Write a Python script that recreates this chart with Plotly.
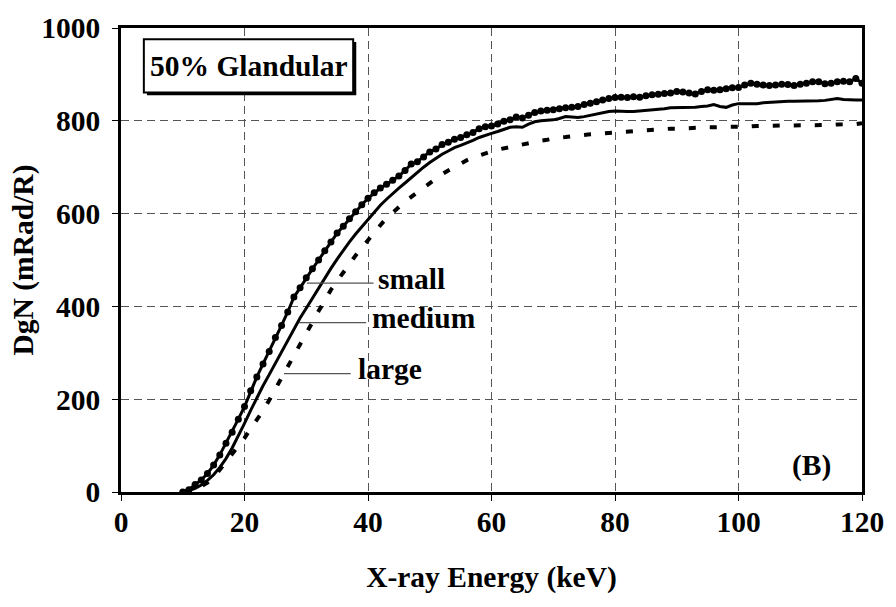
import plotly.graph_objects as go

energy = list(range(10, 121))

small = [0, 5, 16, 26, 40, 58, 80, 105, 129, 157, 184, 218, 248, 276, 303, 333, 359, 388, 420, 440,
         462, 481, 500, 520, 539, 558, 573, 589, 604, 619, 633, 645, 655, 663, 672, 681, 693, 707, 712, 722,
         733, 739, 749, 754, 760, 764, 770, 775, 783, 787, 789, 793, 799, 802, 808, 806, 812, 818, 821, 823,
         824, 826, 828, 829, 831, 835, 838, 841, 845, 848, 850, 851, 850, 852, 851, 854, 856, 857, 859, 860,
         863, 862, 860, 858, 863, 867, 866, 867, 869, 871, 872, 877, 881, 879, 877, 876, 877, 879, 878, 876,
         879, 881, 884, 884, 880, 881, 884, 885, 884, 891, 881]

medium = [0, 3, 8, 15, 25, 37, 53, 72, 95, 120, 148, 176, 204, 229, 253, 278, 303, 328, 352, 375,
          396, 418, 441, 462, 482, 502, 521, 539, 556, 572, 588, 604, 618, 631, 644, 655, 666, 678, 689, 700,
          710, 719, 728, 735, 742, 747, 752, 758, 764, 769, 773, 777, 782, 786, 787, 786, 793, 798, 800, 801,
          802, 805, 809, 808, 807, 809, 812, 814, 817, 820, 821, 820, 820, 820, 821, 822, 824, 825, 826, 828,
          828, 828, 828, 829, 831, 832, 835, 831, 829, 834, 837, 837, 837, 837, 839, 840, 841, 841, 842, 842,
          842, 842, 843, 843, 844, 846, 848, 846, 845, 845, 845]

large = [0, 2, 6, 12, 20, 31, 48, 63, 80, 96, 116, 137, 156, 175, 198, 222, 247, 272, 296, 320,
         346, 368, 390, 412, 436, 455, 472, 491, 510, 527, 543, 559, 575, 590, 603, 615, 626, 636, 646, 656,
         666, 676, 685, 693, 701, 709, 715, 721, 726, 730, 734, 738, 741, 744, 747, 750, 752, 754, 757, 759,
         762, 764, 765, 767, 768, 770, 771, 772, 773, 774, 776, 777, 778, 779, 780, 781, 781, 782, 782, 783,
         783, 784, 784, 785, 785, 786, 786, 786, 787, 787, 787, 788, 788, 789, 789, 789, 790, 790, 790, 790,
         789, 789, 790, 790, 791, 791, 792, 792, 793, 793, 795]

x_ticks = [0, 20, 40, 60, 80, 100, 120]
y_ticks = [0, 200, 400, 600, 800, 1000]

FONT = "Liberation Serif, Times New Roman, serif"
FS = 29.5

fig = go.Figure()
fig.add_trace(go.Scatter(x=energy, y=large, mode="lines", name="large",
                         line=dict(color="black", width=4, dash="7px,14px")))
fig.add_trace(go.Scatter(x=energy, y=medium, mode="lines", name="medium",
                         line=dict(color="black", width=3)))
fig.add_trace(go.Scatter(x=energy, y=small, mode="lines+markers", name="small",
                         line=dict(color="black", width=3),
                         marker=dict(color="black", size=7, symbol="circle")))

# label leader lines and labels
labels = [("small", 30.1, 40.9, 450, 41.3), ("medium", 28.8, 39.7, 365, 40.4), ("large", 26.4, 37.2, 255, 38.1)]
for txt, x0, x1, yv, xt in labels:
    fig.add_shape(type="line", x0=x0, x1=x1, y0=yv, y1=yv, xref="x", yref="y",
                  line=dict(color="#555555", width=1.2))
    fig.add_annotation(x=xt, y=yv + 10, xref="x", yref="y", text=txt, showarrow=False,
                       xanchor="left", yanchor="middle",
                       font=dict(family=FONT, size=FS, color="black", weight="bold"))

# title box with shadow
fig.add_shape(type="rect", x0=4.2, x1=38.1, y0=855, y1=970, xref="x", yref="y",
              fillcolor="black", line=dict(color="black", width=0))
fig.add_shape(type="rect", x0=3.7, x1=37.6, y0=861, y1=976, xref="x", yref="y",
              fillcolor="white", line=dict(color="black", width=2))
fig.add_annotation(x=20.65, y=918, xref="x", yref="y", text="50% Glandular", showarrow=False,
                   xanchor="center", yanchor="middle",
                   font=dict(family=FONT, size=FS, color="black", weight="bold"))
fig.add_annotation(x=111.8, y=58, xref="x", yref="y", text="(B)", showarrow=False,
                   xanchor="center", yanchor="middle",
                   font=dict(family=FONT, size=FS, color="black", weight="bold"))

axis_common = dict(
    showline=True, linecolor="black", linewidth=2.5, mirror=True,
    ticks="outside", ticklen=6, tickcolor="black", tickwidth=1,
    showgrid=True, gridcolor="#555555", gridwidth=1, griddash="8px,5px",
    zeroline=False,
    tickfont=dict(family=FONT, size=FS, color="black", weight="bold"),
)

fig.update_xaxes(range=[0, 120], tickvals=x_ticks, ticktext=[str(v) for v in x_ticks],
                 title=dict(text="X-ray Energy (keV)", standoff=30,
                            font=dict(family=FONT, size=FS, color="black", weight="bold")),
                 ticklabelstandoff=-4, **axis_common)
fig.update_yaxes(range=[0, 1000], tickvals=y_ticks, ticktext=[str(v) for v in y_ticks],
                 title=dict(text="DgN (mRad/R)", standoff=0,
                            font=dict(family=FONT, size=FS, color="black", weight="bold")),
                 ticklabelstandoff=6, **axis_common)

fig.update_layout(
    width=896, height=607,
    margin=dict(l=121, r=29, t=23, b=115),
    plot_bgcolor="white", paper_bgcolor="white",
    showlegend=False,
    font=dict(family=FONT, color="black"),
)

fig.write_html("out.html")
